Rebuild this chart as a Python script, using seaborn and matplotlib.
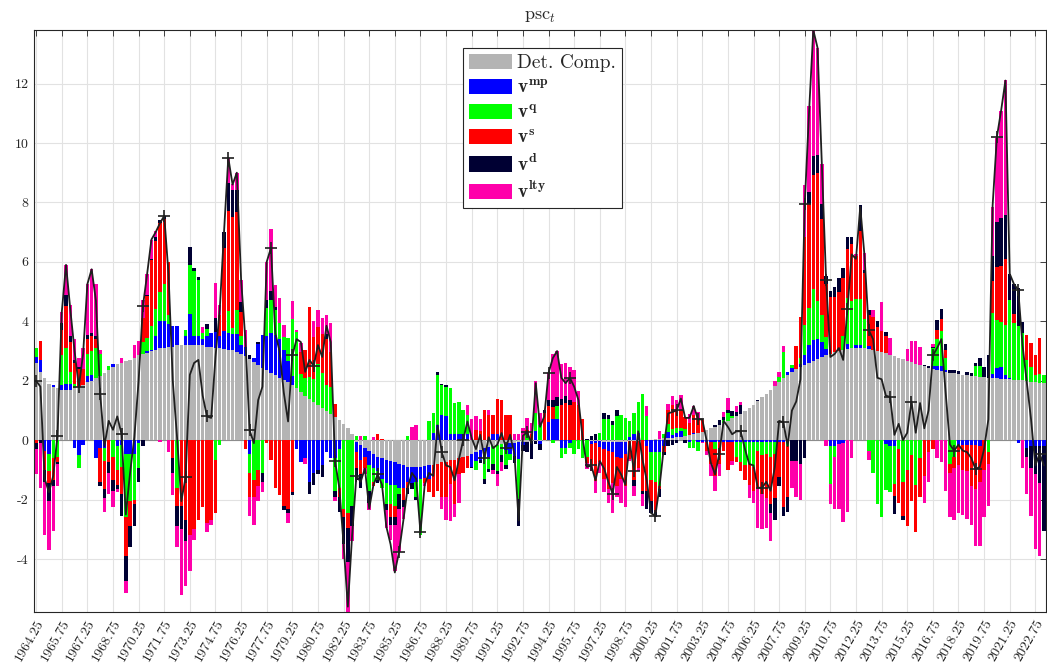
import numpy as np
import matplotlib
matplotlib.use("Agg")
import matplotlib.pyplot as plt
import seaborn as sns
from matplotlib.patches import Patch

# ---------------- data (quarterly, 1964.25 ... 2023.25) ----------------
det = [
 2.6, 2.3, 2.1, 1.9, 1.8, 1.75, 1.7, 1.7, 1.7, 1.75,
 1.8, 1.85, 1.95, 2.0, 2.1, 2.15, 2.25, 2.35, 2.45, 2.55,
 2.6, 2.65, 2.7, 2.75, 2.85, 2.9, 2.95, 3.0, 3.05, 3.1,
 3.1, 3.15, 3.15, 3.2, 3.2, 3.2, 3.2, 3.2, 3.2, 3.2,
 3.15, 3.15, 3.1, 3.1, 3.07, 3.05, 3.02, 2.98, 2.9, 2.82,
 2.73, 2.63, 2.52, 2.43, 2.35, 2.27, 2.18, 2.1, 2.02, 1.95,
 1.87, 1.75, 1.62, 1.5, 1.38, 1.27, 1.17, 1.07, 0.97, 0.88,
 0.78, 0.68, 0.55, 0.4, 0.2, -0.05, -0.15, -0.25, -0.35, -0.45,
 -0.55, -0.6, -0.65, -0.7, -0.75, -0.8, -0.85, -0.9, -0.9, -0.9,
 -0.9, -0.88, -0.85, -0.82, -0.8, -0.75, -0.72, -0.68, -0.65, -0.6,
 -0.57, -0.52, -0.45, -0.4, -0.33, -0.27, -0.23, -0.2, -0.17, -0.14,
 -0.12, -0.1, -0.08, -0.07, -0.06, -0.05, -0.04, -0.03, -0.02, -0.02,
 -0.01, 0.0, 0.0, 0.0, 0.0, 0.0, 0.0, 0.0, 0.0, -0.01,
 -0.02, -0.03, -0.04, -0.05, -0.05, -0.05, -0.05, -0.05, -0.05, -0.04,
 -0.03, -0.02, 0.0, 0.01, 0.02, 0.04, 0.05, 0.06, 0.08, 0.09,
 0.1, 0.12, 0.14, 0.17, 0.2, 0.24, 0.28, 0.33, 0.4, 0.46,
 0.52, 0.59, 0.66, 0.73, 0.81, 0.89, 0.98, 1.08, 1.19, 1.31,
 1.44, 1.57, 1.7, 1.83, 1.96, 2.08, 2.19, 2.29, 2.38, 2.46,
 2.53, 2.6, 2.67, 2.74, 2.8, 2.86, 2.91, 2.96, 3.0, 3.04,
 3.07, 3.09, 3.1, 3.1, 3.09, 3.07, 3.04, 3.0, 2.96, 2.92,
 2.88, 2.83, 2.78, 2.73, 2.68, 2.63, 2.58, 2.53, 2.48, 2.44,
 2.4, 2.36, 2.33, 2.3, 2.27, 2.25, 2.23, 2.21, 2.19, 2.17,
 2.15, 2.13, 2.12, 2.1, 2.09, 2.08, 2.07, 2.06, 2.05, 2.04,
 2.03, 2.01, 1.99, 1.97, 1.95, 1.93, 1.91]

v_mp = [
 0.2, 0.4, -0.35, -0.45, 0.05, 0.0, 0.15, 0.2, 0.2, -0.25,
 -0.5, -0.15, 0.2, 0.2, -0.6, -0.25, -0.25, 0.0, 0.1, -0.2,
 -0.15, -0.45, -0.45, -0.45, -0.1, 0.0, 0.05, 0.05, 0.45, 0.9,
 0.9, 0.75, 0.7, 0.65, 0.0, 0.3, 1.05, 0.3, 0.3, 0.2,
 0.35, 0.45, 0.55, 0.4, 0.6, 0.55, 0.55, 0.6, 0.3, 0.3,
 -0.45, 0.12, 0.7, 1.1, 1.15, 1.35, 1.35, 1.3, 1.0, 0.7,
 0.3, -0.3, -0.75, -0.6, -1.4, -1.1, -1.0, -0.85, -0.4, -0.6,
 -0.6, -0.3, 0.0, 0.0, 0.0, -0.35, -0.5, -0.3, -0.5, -0.5,
 -0.5, -0.7, -0.8, -0.8, -0.75, -0.8, -0.75, -0.5, -0.55, -0.5,
 -0.4, -0.4, -0.45, 0.25, 0.5, 0.85, 0.8, 0.2, 0.2, 0.2,
 0.2, 0.2, -0.45, -0.3, -0.35, -0.15, -0.35, 0.2, 0.2, 0.0,
 -0.2, -0.35, -0.45, -0.55, -0.1, 0.0, 0.0, 0.3, -0.1, 0.0,
 0.6, 0.7, 0.7, -0.25, -0.25, -0.1, 0.0, 0.0, 0.0, 0.0,
 -0.1, -0.05, -0.2, -0.25, -0.3, -0.35, -0.5, -0.55, -0.4, 0.1,
 0.2, 0.25, 0.0, -0.2, -0.4, -0.4, -0.4, -0.2, 0.2, 0.1,
 0.15, 0.2, 0.0, -0.05, 0.05, -0.05, -0.05, -0.05, -0.05, -0.05,
 -0.05, -0.05, -0.05, -0.05, -0.05, -0.05, -0.05, -0.05, -0.05, -0.05,
 -0.05, -0.05, -0.05, -0.05, -0.05, -0.05, 0.1, 0.15, 0.0, 0.1,
 0.35, 0.6, 0.7, 0.65, 0.5, 0.2, -0.18, -0.18, -0.12, -0.1,
 0.15, 0.0, 0.1, 0.1, 0.0, 0.1, 0.0, 0.0, 0.0, -0.12,
 -0.18, -0.18, 0.0, 0.0, 0.0, 0.0, 0.0, 0.0, 0.0, 0.0,
 0.1, 0.15, 0.15, 0.05, 0.0, 0.0, -0.15, -0.15, -0.15, -0.15,
 -0.15, -0.2, 0.0, 0.0, 0.15, 0.35, 0.4, 0.15, 0.05, 0.0,
 -0.1, 0.0, -0.25, -0.2, -0.2, -0.2, -0.2]

v_q = [
 0.3, 0.0, 0.0, -0.6, -0.6, -0.55, 1.0, 1.2, 0.4, 0.15,
 -0.45, 0.0, 0.75, 0.8, 1.0, 0.75, -0.45, 0.15, -0.55, -0.8,
 -0.75, -2.15, -1.6, -1.55, -0.85, 0.4, 0.45, 0.8, 0.9, 1.0,
 1.25, 0.3, 0.0, -1.6, 0.0, 0.2, 1.65, 2.2, 1.9, 0.2,
 0.25, 0.0, -0.65, -0.15, 0.0, 0.75, 0.2, 0.8, 0.3, 0.0,
 -0.65, -1.35, -1.0, -1.1, 0.95, 1.1, 0.85, 0.55, 0.45, 0.8,
 1.9, 1.9, 0.6, 0.6, 0.75, 0.8, 1.4, 1.2, 0.9, 0.9,
 -1.1, -1.3, -2.3, -2.45, -2.2, 0.15, 0.0, 0.15, -0.85, -0.45,
 -0.3, -0.3, -0.7, -0.65, -0.7, -0.2, 0.0, 0.15, 0.0, -0.5,
 -1.9, 0.0, 0.65, 0.65, 1.7, 1.0, 1.0, 1.55, 1.05, 1.1,
 0.8, 0.65, 0.0, -0.3, 0.0, -0.9, -0.4, -0.6, -0.85, -0.35,
 -0.5, -0.2, 0.0, -1.35, 0.0, 0.2, 0.0, 0.6, 0.5, 0.0,
 0.0, -0.1, 0.45, -0.35, -0.2, -0.15, -0.45, -0.3, -0.6, -0.55,
 0.0, 0.0, 0.25, 0.7, 0.7, 0.5, 0.8, 0.85, 0.75, 0.55,
 0.7, 1.05, 1.55, 0.8, -0.95, -1.0, -1.15, 0.15, 0.25, 0.2,
 0.15, 0.1, 0.25, -0.2, -0.25, -0.3, 0.0, 0.0, 0.0, -0.25,
 0.0, 0.1, 0.25, 0.1, -0.5, -0.7, -0.8, -0.75, -0.85, -0.3,
 -0.45, -0.4, -0.5, -0.4, 0.15, 0.9, -0.2, 0.1, 0.0, 0.2,
 1.0, 1.25, 1.7, 1.3, 0.9, 0.4, -1.3, -0.4, 0.0, 0.45,
 1.55, 1.6, 1.55, 1.55, 1.0, -0.35, -1.1, -2.15, -2.6, -1.55,
 -1.55, -1.3, -0.3, -1.4, -1.0, -0.5, -1.5, -0.6, 0.0, 0.0,
 0.6, 0.9, 1.2, 0.4, -0.8, -0.55, 0.0, 0.0, 0.0, 0.0,
 0.35, 0.35, 0.0, -0.4, 2.05, 1.6, 1.5, 1.65, 2.6, 1.9,
 1.8, 1.6, 0.7, 0.5, 0.25, 0.3, 0.3]

v_s = [
 -0.1, 0.65, -0.65, -0.4, -0.75, -0.2, 0.85, 1.4, 1.0, 0.7,
 0.6, 0.55, 0.5, 0.5, 0.3, -1.15, -0.95, -0.75, -0.8, -0.5,
 -0.9, -1.3, -0.85, -0.15, 0.0, 0.8, 1.4, 2.2, 2.3, 2.3,
 2.2, 1.8, -0.6, -0.6, -2.2, -2.7, -3.2, -3.0, -2.7, -2.25,
 -2.8, -2.7, -1.8, 0.7, 2.78, 3.35, 3.75, 3.3, 0.8, -0.3,
 -0.8, -0.55, -0.55, 0.0, -0.1, -0.65, -1.6, -1.85, -2.2, -2.3,
 -1.75, 0.0, 0.75, 0.95, 2.35, 1.4, 1.25, 1.3, 1.55, 1.2,
 0.45, -0.3, -0.3, -0.5, 0.0, -0.55, -0.5, -0.4, 0.0, -0.15,
 0.2, 0.05, 0.0, -0.45, -0.4, 0.0, -0.4, -0.2, 0.0, 0.0,
 0.0, -0.15, -0.45, -1.1, -0.9, -1.15, -1.2, -0.8, -1.5, -0.55,
 -0.55, -0.4, 0.0, 0.35, 0.3, 1.0, 0.85, 0.65, 1.2, 1.35,
 0.85, 0.85, 0.0, 0.0, 0.0, 0.15, 0.2, 0.0, 0.0, 0.9,
 0.55, 0.4, 0.0, 1.2, 1.25, 1.2, 1.3, 1.2, 0.7, -0.2,
 -0.7, -1.3, -0.5, -1.0, -1.3, -1.05, -1.0, -0.7, -1.1, -0.6,
 -1.3, -0.9, -1.7, -1.5, -0.7, -1.0, -0.1, -0.2, 0.5, 0.8,
 0.65, 0.6, 0.4, 0.4, 0.6, 0.5, 0.4, -0.3, -0.75, -0.9,
 -0.75, -0.3, -0.95, -0.65, -0.2, -0.3, -0.5, -0.7, -0.8, -1.3,
 -1.3, -1.5, -1.6, -1.5, -1.2, -2.2, -1.7, 0.0, 0.8, 1.4,
 2.95, 3.5, 3.85, 4.3, 3.25, 1.8, 1.9, 1.85, 2.0, 1.95,
 1.65, 1.9, 1.45, 2.3, 1.55, 1.05, 1.1, 0.8, 0.7, 0.6,
 0.0, -0.4, -1.8, -1.15, -1.9, -1.55, -1.6, -1.3, -1.2, -0.4,
 -0.3, 0.3, 0.4, 0.3, -0.3, -0.4, -0.7, -0.85, -0.9, -1.4,
 -1.5, -1.2, -1.0, -0.4, 1.05, 1.8, 1.9, 2.25, 0.0, 0.3,
 0.0, 0.0, 0.85, 0.8, 0.65, 1.2, 0.0]

v_d = [
 -0.2, -0.1, -0.4, -0.6, -0.2, -0.05, 0.25, 0.4, 0.2, 0.1,
 0.05, 0.0, 0.15, 0.1, 0.1, -0.15, -0.3, -0.35, -0.35, -0.15,
 -0.75, -0.85, -0.7, -0.75, -0.45, -0.2, 0.05, 0.05, 0.15, 0.1,
 0.1, 0.0, -0.5, -0.7, -0.8, -0.7, 0.6, 0.1, 0.1, 0.0,
 0.15, 0.0, 0.45, 0.0, 0.55, 0.95, 0.9, 0.75, 0.35, 0.0,
 0.12, 0.0, 0.1, -0.3, 0.25, 0.3, 0.1, 0.0, -0.15, -0.15,
 -0.1, 0.0, 0.0, 0.0, -0.4, -0.4, -0.15, -0.4, 0.15, 0.0,
 -0.2, -0.5, -0.9, -1.15, -0.7, -0.4, -0.45, 0.0, -0.4, 0.0,
 -0.1, 0.0, -0.2, -0.25, -0.25, -0.5, -0.25, -0.2, -0.2, -0.1,
 0.0, 0.0, 0.0, 0.0, 0.1, 0.05, 0.05, 0.0, 0.0, 0.0,
 0.0, 0.0, -0.05, 0.0, -0.1, -0.15, -0.1, -0.2, -0.12, -0.25,
 -0.15, 0.0, -0.25, -0.9, -0.2, -0.35, -0.6, -0.1, -0.2, 0.12,
 0.2, 0.25, 0.3, 0.2, 0.25, 0.15, 0.0, 0.0, 0.0, 0.05,
 0.15, 0.2, 0.0, 0.2, 0.15, 0.15, 0.2, 0.0, 0.0, 0.0,
 -0.2, 0.0, -0.1, -0.6, -0.4, -0.2, -0.25, -0.1, -0.2, -0.15,
 -0.1, 0.0, -0.1, 0.0, 0.0, 0.0, 0.0, 0.0, 0.0, 0.05,
 0.15, 0.1, 0.1, 0.15, 0.15, 0.3, 0.0, 0.0, 0.0, 0.05,
 0.0, 0.0, -0.3, -0.75, -0.3, -0.3, -0.5, -0.7, -0.7, -0.8,
 -0.6, 0.4, 0.65, 0.6, 0.5, 0.25, 0.2, 0.35, 0.45, 0.35,
 0.4, 0.25, 0.0, 0.85, 0.1, 0.15, 0.0, 0.2, 0.0, 0.12,
 0.0, -0.6, 0.0, -0.15, 0.0, 0.0, 0.0, 0.0, 0.05, 0.05,
 0.05, 0.35, 0.35, 0.2, 0.1, 0.1, 0.1, 0.0, 0.1, 0.1,
 0.1, 0.3, 0.35, 0.75, 0.85, 1.5, 1.6, 1.45, 0.9, 1.0,
 1.3, 0.35, -0.3, -0.75, -0.95, -1.25, -2.85]

v_lty = [
 -0.85, -1.5, -1.8, -1.65, -1.5, -0.75, 0.35, 1.0, 1.05, 0.7,
 0.3, 0.7, 1.7, 2.15, 1.75, 0.15, -0.45, -0.7, -0.55, -0.1,
 0.15, -0.4, 0.0, 0.45, 0.5, 0.6, 0.7, 0.65, 0.2, -0.05,
 0.0, -0.4, -0.76, -0.7, -2.2, -1.5, -1.2, -0.35, 0.0, 0.2,
 -0.3, -0.15, 1.2, 0.35, 0.0, 0.85, 0.2, 0.55, 0.75, 0.6,
 -0.65, -0.95, -0.5, -0.35, 1.3, 2.1, 0.75, 0.85, 0.4, -0.35,
 0.6, 0.05, 0.3, -0.2, 0.0, 0.55, 0.55, 0.55, 0.65, 0.95,
 -0.15, 0.0, -0.5, -1.9, -0.5, 0.0, 0.15, -0.2, -0.25, 0.1,
 0.0, 0.0, -0.6, -0.5, -1.55, -1.45, -0.4, 0.0, 0.45, 0.5,
 0.0, -0.1, 0.0, 0.0, 0.0, -0.4, -0.75, -1.25, -0.45, -0.95,
 0.0, 0.35, 0.7, 0.45, 0.4, 0.0, 0.15, -0.15, -0.4, -0.3,
 0.0, 0.0, 0.2, 0.2, 0.4, 0.4, 0.37, 1.1, 0.4, 0.0,
 0.9, 1.55, 1.55, 1.15, 1.1, 1.1, 1.05, 0.45, 0.0, -0.2,
 -0.2, -0.4, -0.35, -0.45, -0.45, -1.0, -0.35, -0.8, -0.7, -0.05,
 -0.35, -0.1, -0.4, 0.35, 0.0, 0.0, 0.25, 0.0, 0.2, 0.3,
 0.3, 0.5, 0.0, 0.3, 0.3, 0.2, -0.05, -0.15, -0.4, -0.5,
 -0.4, 0.15, 0.4, -0.15, 0.2, 0.1, 0.0, -0.45, -0.4, -1.3,
 -1.2, -1.0, -0.95, 0.15, 0.2, 0.2, 0.0, -0.9, -1.2, -1.2,
 1.75, 2.9, 4.2, 3.6, 1.35, -0.18, -0.65, -1.75, -2.2, -2.65,
 -2.4, -0.6, 0.05, 0.0, 0.55, -0.3, 0.25, 0.0, 1.0, 0.0,
 0.55, 0.0, 0.0, 0.0, 0.4, 0.7, 0.75, 0.6, -0.9, -1.0,
 0.1, -0.6, -0.75, -1.7, -1.5, -1.75, -1.6, -1.5, -1.6, -1.3,
 -1.9, -2.15, -1.6, -1.4, 1.65, 2.85, 3.6, 4.55, 0.0, 0.0,
 0.0, -0.95, -1.25, -1.6, -2.5, -2.45, 0.0]

psc_total = [
 2.0, 1.8, -1.3, -1.75, -1.2, 0.15, 4.3, 5.9, 4.4, 3.0,
 1.8, 2.9, 5.25, 5.75, 4.7, 1.55, -0.2, 0.65, 0.35, 0.8,
 0.2, -2.5, -1.1, 0.1, 2.0, 4.5, 5.6, 6.75, 7.0, 7.3,
 7.55, 5.6, 2.0, 0.1, -2.05, -1.25, 2.2, 2.6, 2.7, 1.5,
 0.8, 0.75, 2.8, 4.4, 7.0, 9.5, 8.6, 9.0, 5.4, 3.4,
 0.33, -0.1, 1.35, 1.8, 6.0, 6.47, 3.6, 3.0, 1.6, 0.63,
 2.85, 3.4, 3.3, 2.3, 2.7, 2.5, 3.2, 2.8, 3.85, 3.3,
 -0.7, -1.6, -3.5, -5.6, -3.2, -1.2, -1.4, -0.95, -2.3, -1.5,
 -1.15, -1.5, -2.9, -3.5, -4.45, -3.75, -2.7, -1.6, -1.1, -1.3,
 -3.1, -1.5, -1.1, -1.2, 0.5, -0.4, -0.85, -0.9, -1.35, -0.65,
 0.0, 0.63, 0.07, -0.3, 0.18, -0.6, 0.1, -0.27, -0.15, 0.24,
 -0.25, 0.18, -0.45, -2.7, 0.15, 0.27, -0.1, 1.92, 0.45, 0.8,
 2.26, 2.76, 3.0, 2.1, 1.92, 2.1, 1.8, 1.35, 0.05, -0.9,
 -0.85, -1.35, -0.7, -0.95, -1.4, -1.8, -0.9, -1.15, -1.5, -0.05,
 -1.03, 0.3, -0.65, -1.35, -2.45, -2.55, -1.55, -0.25, 0.9, 0.95,
 1.0, 1.4, 0.75, 0.75, 1.15, 0.7, 0.7, 0.0, -0.75, -1.15,
 -0.45, 0.65, 0.45, 0.2, 0.3, 0.3, -0.3, -0.8, -0.85, -1.6,
 -1.6, -1.4, -1.7, -0.9, 0.65, 0.6, -0.2, 1.0, 1.3, 2.05,
 7.95, 11.0, 13.8, 13.2, 9.3, 5.4, 2.8, 2.9, 3.1, 2.7,
 4.4, 6.25, 6.1, 7.85, 6.2, 3.7, 3.4, 2.1, 2.05, 1.5,
 1.45, 0.18, 0.55, 0.0, 0.25, 1.3, 0.25, 1.25, 0.4, 1.0,
 2.85, 3.1, 3.4, 1.6, -0.15, -0.35, -0.15, -0.35, -0.4, -0.6,
 -0.97, -0.9, -0.3, 0.7, 7.9, 10.2, 11.1, 12.1, 5.6, 5.25,
 5.05, 3.2, 1.95, 0.7, -0.85, -0.45, -0.85]

tick_labels = ['1964.25', '1965.75', '1967.25', '1968.75', '1970.25', '1971.75',
               '1973.25', '1974.75', '1976.25', '1977.75', '1979.25', '1980.75',
               '1982.25', '1983.75', '1985.25', '1986.75', '1988.25', '1989.75',
               '1991.25', '1992.75', '1994.25', '1995.75', '1997.25', '1998.75',
               '2000.25', '2001.75', '2003.25', '2004.75', '2006.25', '2007.75',
               '2009.25', '2010.75', '2012.25', '2013.75', '2015.25', '2016.75',
               '2018.25', '2019.75', '2021.25', '2022.75']

series_names = ['Det. Comp.', r'$\mathbf{v}^{\mathbf{mp}}$', r'$\mathbf{v}^{\mathbf{q}}$',
                r'$\mathbf{v}^{\mathbf{s}}$', r'$\mathbf{v}^{\mathbf{d}}$',
                r'$\mathbf{v}^{\mathbf{lty}}$']
series_colors = ['#b4b4b4', '#0000ff', '#00ff00', '#ff0000', '#000033', '#ff00aa']

# ---------------- styling ----------------
sns.set_theme(style='white')
plt.rcParams['font.family'] = ['cmr10', 'DejaVu Serif']
plt.rcParams['mathtext.fontset'] = 'cm'
plt.rcParams['axes.unicode_minus'] = False
plt.rcParams['axes.formatter.use_mathtext'] = False

components = [det, v_mp, v_q, v_s, v_d, v_lty]
n = len(det)
for c in components + [psc_total]:
    assert len(c) == n, len(c)
x = np.arange(n)

fig = plt.figure(figsize=(10.47, 6.66), dpi=100)
ax = fig.add_axes([34 / 1047, 54 / 666, 1012 / 1047, 582 / 666])

pos_base = np.zeros(n)
neg_base = np.zeros(n)
for vals, col in zip(components, series_colors):
    v = np.asarray(vals, dtype=float)
    base = np.where(v >= 0, pos_base, neg_base)
    ax.bar(x, v, width=0.8, bottom=base, color=col, linewidth=0, zorder=2)
    pos_base += np.clip(v, 0, None)
    neg_base += np.clip(v, None, 0)

sns.lineplot(x=x, y=np.asarray(psc_total), ax=ax, color='#1f1f1f', linewidth=1.3,
             marker='+', markersize=9, markeredgewidth=1.2, markevery=5,
             markeredgecolor='#1f1f1f', zorder=4, legend=False)

ax.set_xlim(-0.5, n - 0.5)
ax.set_ylim(-5.78, 13.8)
ax.set_xticks(np.arange(0, n, 6)[:len(tick_labels)])
ax.set_xticklabels(tick_labels, rotation=60, ha='right', rotation_mode='anchor', fontsize=10)
ax.set_yticks(np.arange(-4, 13, 2))
ax.set_yticklabels([str(v) for v in range(-4, 13, 2)], fontsize=10)
ax.tick_params(direction='in', length=4, width=0.6, top=True, right=True,
               colors='#262626', labelcolor='#262626', pad=4)
ax.grid(True, color='#e2e2e2', linewidth=0.8, zorder=0)
ax.set_axisbelow(True)
ax.axhline(0, color='#8c8c8c', linewidth=0.8, zorder=1.5)
for sp in ax.spines.values():
    sp.set_color('#262626')
    sp.set_linewidth(0.8)

ax.set_title(r'$\mathrm{psc}_t$', fontsize=13, pad=7, color='#262626')

handles = [Patch(facecolor=c, edgecolor='none') for c in series_colors]
leg = ax.legend(handles, series_names, loc='upper left',
                bbox_to_anchor=((463 - 34) / 1012, (612 - 48) / 582),
                fontsize=14, frameon=True, fancybox=False, framealpha=1,
                edgecolor='#262626', handlelength=2.2, handleheight=0.85,
                handletextpad=0.3, labelspacing=0.33, borderpad=0.3,
                borderaxespad=0)
leg.get_frame().set_linewidth(0.8)

fig.savefig('out.png', dpi=100)
